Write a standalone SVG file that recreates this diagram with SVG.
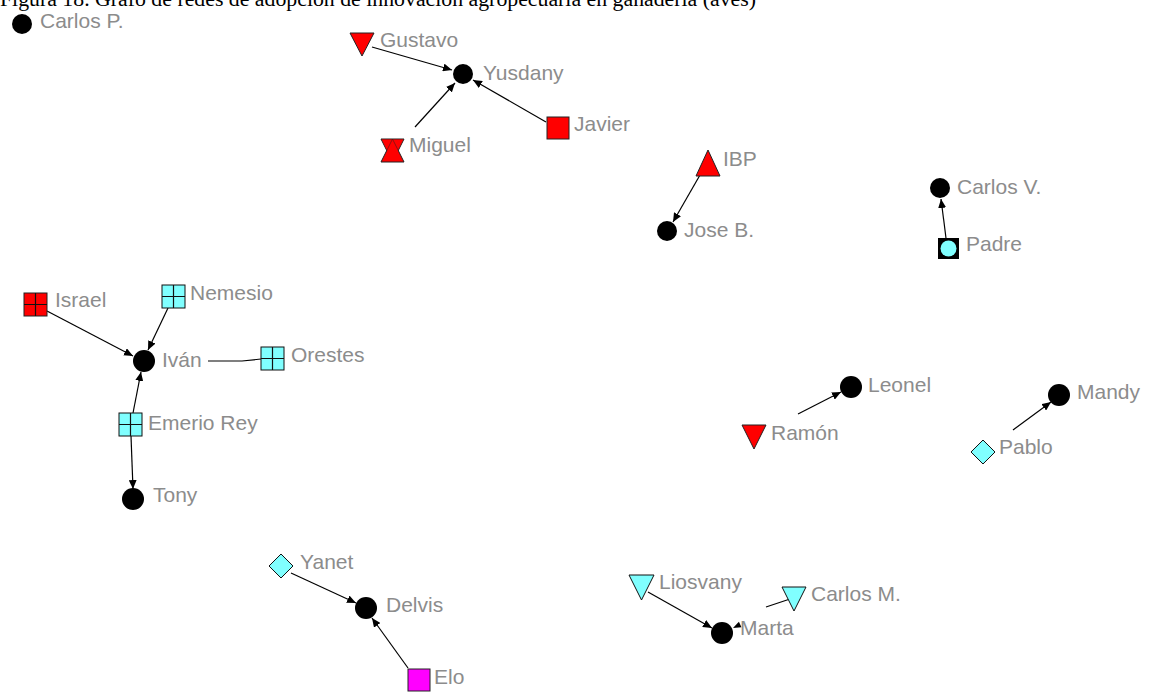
<svg xmlns="http://www.w3.org/2000/svg" width="1154" height="694" viewBox="0 0 1154 694">
<style>
.lbl{font-family:"Liberation Sans",Arial,sans-serif;font-size:21px;fill:#8c8c8c}
.ttl{font-family:"Liberation Serif","Times New Roman",serif;font-size:20px;fill:#000}
.dot{fill:#000}
.red{fill:#f00;stroke:#222;stroke-width:1}
.cyan{fill:#80ffff;stroke:#111;stroke-width:1}
.mag{fill:#f0f;stroke:#222;stroke-width:1}
.grid{stroke:#111;stroke-width:1.2;fill:none}
.edge{stroke:#000;stroke-width:1.2;fill:none}
.arr{stroke:#000;stroke-width:1.2;fill:none;marker-end:url(#ah)}
</style>
<defs>
<marker id="ah" markerUnits="userSpaceOnUse" markerWidth="10" markerHeight="8" refX="9" refY="4" orient="auto">
<path d="M0,0 L9,4 L0,8 z" fill="#000"/>
</marker>
</defs>
<rect width="1154" height="694" fill="#fff"/>
<text class="ttl" x="0" y="6" textLength="756" lengthAdjust="spacingAndGlyphs">Figura 18. Grafo de redes de adopción de innovación agropecuaria en ganadería (aves)</text>

<g id="connectors">
<path class="arr" d="M372,47 L452,70"/>
<path class="arr" d="M415,127 L455,83"/>
<path class="arr" d="M546,122 L473,80"/>
<path class="arr" d="M700,175 L673,222"/>
<path class="arr" d="M946,238 L941,199"/>
<path class="arr" d="M47,311 L133,356"/>
<path class="arr" d="M168,308 L148,350"/>
<path class="edge" d="M208,361 L242,361 L261,359"/>
<path class="arr" d="M133,413 L141,372"/>
<path class="arr" d="M131,436 L133,489"/>
<path class="arr" d="M798,414 L841,392"/>
<path class="arr" d="M1013,430 L1051,402"/>
<path class="arr" d="M291,573 L356,603"/>
<path class="arr" d="M408,668 L372,618"/>
<path class="arr" d="M648,592 L712,628"/>
<path class="edge" d="M766,607 L793,598"/>
<polygon points="733,628 741.5,627.2 738.9,621.8" fill="#000"/>
</g>

<g id="n-carlosp"><circle class="dot" cx="22" cy="24" r="10"/><text class="lbl" x="40" y="28">Carlos P.</text></g>
<g id="n-gustavo"><polygon class="red" points="350,33 374,33 362,56"/><text class="lbl" x="380" y="47">Gustavo</text></g>
<g id="n-yusdany"><circle class="dot" cx="463" cy="74" r="10"/><text class="lbl" x="483" y="80">Yusdany</text></g>
<g id="n-miguel"><polygon class="red" points="381,139 404,139 392.5,162"/><polygon class="red" points="392.5,139 404,162 381,162"/><polygon points="381.6,139.6 403.4,139.6 392.5,161" fill="#f00" opacity="0.5"/><text class="lbl" x="409" y="152">Miguel</text></g>
<g id="n-javier"><rect class="red" x="547" y="117" width="22" height="22"/><text class="lbl" x="574" y="131">Javier</text></g>
<g id="n-ibp"><polygon class="red" points="708,150 720,176 696,176"/><text class="lbl" x="723" y="166">IBP</text></g>
<g id="n-joseb"><circle class="dot" cx="667" cy="231" r="10"/><text class="lbl" x="684" y="237">Jose B.</text></g>
<g id="n-carlosv"><circle class="dot" cx="940" cy="188" r="10"/><text class="lbl" x="957" y="194">Carlos V.</text></g>
<g id="n-padre"><rect x="938" y="238" width="21" height="21" fill="#000"/><circle cx="948.5" cy="248.5" r="8" fill="#80ffff"/><text class="lbl" x="966" y="251">Padre</text></g>
<g id="n-israel"><rect class="red" x="24" y="293" width="23" height="23"/><path class="grid" d="M35.5,293 V316 M24,304.5 H47"/><text class="lbl" x="55" y="307">Israel</text></g>
<g id="n-nemesio"><rect class="cyan" x="162" y="285" width="23" height="23"/><path class="grid" d="M173.5,285 V308 M162,296.5 H185"/><text class="lbl" x="190" y="300">Nemesio</text></g>
<g id="n-ivan"><circle class="dot" cx="144" cy="361" r="11"/><text class="lbl" x="162" y="367">Iván</text></g>
<g id="n-orestes"><rect class="cyan" x="261" y="347" width="23" height="23"/><path class="grid" d="M272.5,347 V370 M261,358.5 H284"/><text class="lbl" x="291" y="362">Orestes</text></g>
<g id="n-emerio"><rect class="cyan" x="119" y="413" width="23" height="23"/><path class="grid" d="M130.5,413 V436 M119,424.5 H142"/><text class="lbl" x="148" y="430">Emerio Rey</text></g>
<g id="n-tony"><circle class="dot" cx="133" cy="499" r="11"/><text class="lbl" x="153" y="502">Tony</text></g>
<g id="n-leonel"><circle class="dot" cx="851" cy="387" r="11"/><text class="lbl" x="868" y="392">Leonel</text></g>
<g id="n-ramon"><polygon class="red" points="742,425 766,425 754,449"/><text class="lbl" x="771" y="440">Ramón</text></g>
<g id="n-mandy"><circle class="dot" cx="1059" cy="395" r="11"/><text class="lbl" x="1077" y="399">Mandy</text></g>
<g id="n-pablo"><polygon class="cyan" points="983,440 995,452 983,464 971,452"/><text class="lbl" x="999" y="454">Pablo</text></g>
<g id="n-yanet"><polygon class="cyan" points="281,554 293,566 281,578 269,566"/><text class="lbl" x="300" y="569">Yanet</text></g>
<g id="n-delvis"><circle class="dot" cx="366" cy="608" r="11"/><text class="lbl" x="386" y="612">Delvis</text></g>
<g id="n-elo"><rect class="mag" x="408" y="669" width="22" height="22"/><text class="lbl" x="434" y="684">Elo</text></g>
<g id="n-liosvany"><polygon class="cyan" points="629,575 654,575 641.5,600"/><text class="lbl" x="659" y="589">Liosvany</text></g>
<g id="n-carlosm"><polygon class="cyan" points="782,587 806,587 794,611"/><text class="lbl" x="811" y="601">Carlos M.</text></g>
<g id="n-marta"><circle class="dot" cx="722" cy="633" r="11"/><text class="lbl" x="740" y="635">Marta</text></g>
</svg>
